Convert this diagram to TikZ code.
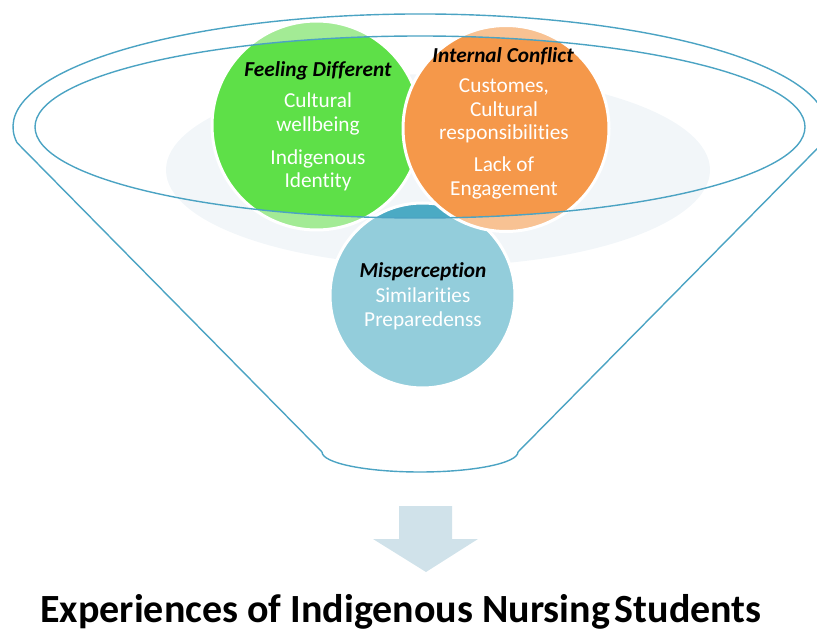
\documentclass[tikz,border=0pt]{standalone}
\usepackage{fontspec}
\setmainfont[Ligatures=NoCommon]{Carlito}
\definecolor{lineblue}{RGB}{75,163,195}
\definecolor{grnB}{RGB}{94,224,72}
\definecolor{grnL}{RGB}{163,235,149}
\definecolor{orgB}{RGB}{245,152,74}
\definecolor{orgL}{RGB}{248,194,147}
\definecolor{bluB}{RGB}{75,170,196}
\definecolor{bluL}{RGB}{147,205,219}
\definecolor{pale}{RGB}{242,246,249}
\definecolor{arrowc}{RGB}{208,226,234}
\begin{document}
\begin{tikzpicture}[x=1pt,y=1pt,
  funnel/.style={draw=lineblue,line width=1.4pt,line join=round},
  ring/.style={draw=white,line width=3pt},
  headtxt/.style={font=\fontsize{21.3}{24}\selectfont\bfseries\itshape,text=black,anchor=base,inner sep=0pt},
  bodytxt/.style={font=\fontsize{21.3}{24}\selectfont,text=white,anchor=base,inner sep=0pt}]
\useasboundingbox (0,0) rectangle (817,-631);
% pale background ellipse
\fill[pale] (438,-170) ellipse[x radius=272,y radius=96];
% blue circle
\fill[bluL] (422.5,-295.5) circle[radius=92.5];
\begin{scope}
  \clip (420,-127) ellipse[x radius=385,y radius=91];
  \fill[bluB] (422.5,-295.5) circle[radius=92.5];
\end{scope}
\draw[ring] (422.5,-295.5) circle[radius=92.5];
% green circle
\fill[grnL] (316.5,-125.5) circle[radius=104.5];
\begin{scope}
  \clip (420,-127) ellipse[x radius=385,y radius=91];
  \fill[grnB] (316.5,-125.5) circle[radius=104.5];
\end{scope}
\draw[ring] (316.5,-125.5) circle[radius=104.5];
% orange circle
\fill[orgL] (506,-128.5) circle[radius=103];
\begin{scope}
  \clip (420,-127) ellipse[x radius=385,y radius=91];
  \fill[orgB] (506,-128.5) circle[radius=103];
\end{scope}
\draw[ring] (506,-128.5) circle[radius=103];
% funnel lines
\draw[funnel] (420,-127) ellipse[x radius=385,y radius=91];
\coordinate (fl) at (17.0,-142.7);
\coordinate (br) at (518,-452);
\draw[funnel] (fl) arc[start angle=188,end angle=-8,x radius=407,y radius=113]
  -- (br) arc[start angle=0,end angle=-180,x radius=98,y radius=20] -- (fl);
% texts green
\node[headtxt] (g0) at (318,-76.5) {Feeling Different};
\node[bodytxt] (g1) at (318,-108) {Cultural};
\node[bodytxt] (g2) at (318,-131.5) {wellbeing};
\node[bodytxt] (g3) at (318,-165) {Indigenous};
\node[bodytxt] (g4) at (318,-188) {Identity};
% texts orange
\node[headtxt] (o0) at (503,-62.5) {Internal Conflict};
\node[bodytxt] (o1) at (504,-93) {Customes,};
\node[bodytxt] (o2) at (504,-116.5) {Cultural};
\node[bodytxt] (o3) at (504,-140) {responsibilities};
\node[bodytxt] (o4) at (504,-172) {Lack of};
\node[bodytxt] (o5) at (504,-196) {Engagement};
% texts blue
\node[headtxt] (b0) at (423,-278) {Misperception};
\node[bodytxt] (b1) at (423,-302) {Similarities};
\node[bodytxt] (b2) at (423,-326) {Preparedenss};
% arrow
\fill[arrowc] (399,-506) -- (452,-506) -- (452,-539) -- (478,-539) -- (426,-572)
  -- (373,-539) -- (399,-539) -- cycle;
% title
\node[font=\fontsize{40}{44}\selectfont\bfseries,anchor=base,inner sep=0pt] (title)
  at (401,-622) {Experiences of Indigenous Nursing\hspace{0.12em}Students};
\end{tikzpicture}
\end{document}
